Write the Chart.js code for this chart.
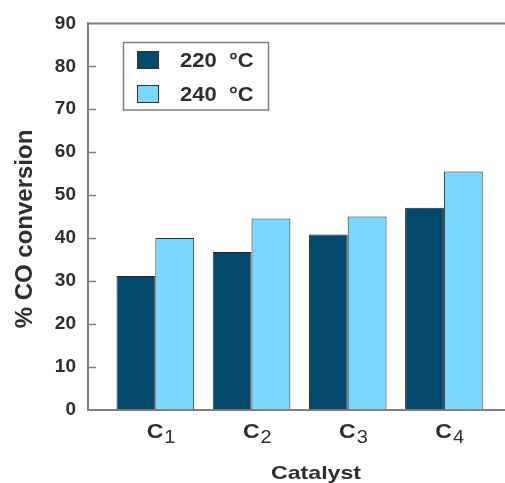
<!DOCTYPE html>
<html>
<head>
<meta charset="utf-8">
<script src="https://cdn.jsdelivr.net/npm/chart.js@4.4.0/dist/chart.umd.min.js"></script>
<style>
  body { margin: 0; background: #fff; }
  #wrap { width: 505px; height: 483px; position: relative; }
</style>
</head>
<body>
<div id="wrap"><canvas id="chart"></canvas></div>
<script>
// data
const catalysts = ['1', '2', '3', '4'];          // subscript of "C"
const seriesLabels = ['220  °C', '240  °C'];
const conv220 = [31.1, 36.7, 40.8, 47.0];
const conv240 = [40.0, 44.5, 45.0, 55.5];
const yTicks = [0, 10, 20, 30, 40, 50, 60, 70, 80, 90];

const colors = ['#034a6c', '#78d6ff'];
const axisGray = '#7f7f7f';
const textColor = '#2e2e2e';
const FONT = '"Liberation Sans", Arial, sans-serif';

const toPoints = (vals) => vals.map((v, i) => ({ x: i + 1, y: v }));

// text in the source figure is a bit wide, so allow a horizontal stretch
const wideText = (ctx, text, x, y, font, sx, align) => {
    ctx.save();
    ctx.translate(x, y);
    ctx.scale(sx, 1);
    ctx.font = font;
    ctx.textAlign = align;
    ctx.fillText(text, 0, 0);
    ctx.restore();
};

// extra drawing: top frame line, inner ticks, category labels, titles, legend
const decorPlugin = {
    id: 'decor',
    afterDraw(chart) {
        const { ctx, chartArea: area, scales: { x, y } } = chart;
        ctx.save();

        // top frame line
        ctx.strokeStyle = axisGray;
        ctx.lineWidth = 2;
        ctx.beginPath();
        ctx.moveTo(area.left, area.top);
        ctx.lineTo(area.right, area.top);
        ctx.stroke();

        // inward y ticks
        ctx.lineWidth = 1.5;
        yTicks.slice(1, -1).forEach(v => {
            const py = Math.round(y.getPixelForValue(v)) + 0.5;
            ctx.beginPath();
            ctx.moveTo(area.left, py);
            ctx.lineTo(area.left + 8, py);
            ctx.stroke();
        });

        // category labels C1..C4
        ctx.fillStyle = textColor;
        ctx.textBaseline = 'alphabetic';
        catalysts.forEach((sub, i) => {
            const px = x.getPixelForValue(i + 1);
            wideText(ctx, 'C', px + 8, 438, 'bold 20px ' + FONT, 1.15, 'right');
            wideText(ctx, sub, px + 9, 443, '19px ' + FONT, 1.05, 'left');
        });

        // x title
        wideText(ctx, 'Catalyst', 316, 479, 'bold 19px ' + FONT, 1.22, 'center');

        // y title
        ctx.save();
        ctx.translate(32, 229);
        ctx.rotate(-Math.PI / 2);
        ctx.font = 'bold 24px ' + FONT;
        ctx.textAlign = 'center';
        ctx.fillText('% CO conversion', 0, 0);
        ctx.restore();

        // legend box
        ctx.strokeStyle = axisGray;
        ctx.lineWidth = 1.5;
        ctx.strokeRect(123.5, 42.5, 145, 67.5);
        chart.data.datasets.forEach((ds, i) => {
            const top = 51 + i * 34;
            ctx.fillStyle = ds.backgroundColor;
            ctx.fillRect(137, top, 22, 18);
            ctx.strokeStyle = '#333';
            ctx.lineWidth = 1;
            ctx.strokeRect(137.5, top + 0.5, 21, 17);
            ctx.fillStyle = textColor;
            ctx.textBaseline = 'middle';
            wideText(ctx, ds.label, 180, top + 10, 'bold 20px ' + FONT, 1.1, 'left');
        });

        ctx.restore();
    }
};

const ctx = document.getElementById('chart').getContext('2d');
new Chart(ctx, {
    type: 'bar',
    data: {
        datasets: [
            { label: seriesLabels[0], data: toPoints(conv220), backgroundColor: colors[0] },
            { label: seriesLabels[1], data: toPoints(conv240), backgroundColor: colors[1] }
        ]
    },
    options: {
        responsive: true,
        maintainAspectRatio: false,
        animation: false,
        layout: { padding: { top: 20, right: 0, left: 0, bottom: 0 } },
        datasets: {
            bar: {
                borderColor: '#2a2a2a',
                borderWidth: 1,
                categoryPercentage: 0.807,
                barPercentage: 1.0
            }
        },
        plugins: {
            legend: { display: false },
            tooltip: { enabled: false }
        },
        scales: {
            x: {
                type: 'linear',
                offset: false,
                min: 0.3,
                max: 4.635,
                afterBuildTicks: s => { s.ticks = catalysts.map((c, i) => ({ value: i + 1 })); },
                afterFit: s => { s.height = 73.5; },
                ticks: { display: false },
                grid: { display: false, offset: false },
                border: { display: true, color: axisGray, width: 2 }
            },
            y: {
                min: 0,
                max: 90,
                afterBuildTicks: s => { s.ticks = yTicks.map(v => ({ value: v })); },
                afterFit: s => { s.width = 88; },
                ticks: {
                    padding: 12,
                    color: textColor,
                    font: { family: FONT, size: 19, weight: 'bold' }
                },
                grid: { display: false, drawTicks: false },
                border: { display: true, color: axisGray, width: 2 }
            }
        }
    },
    plugins: [decorPlugin]
});
</script>
</body>
</html>
